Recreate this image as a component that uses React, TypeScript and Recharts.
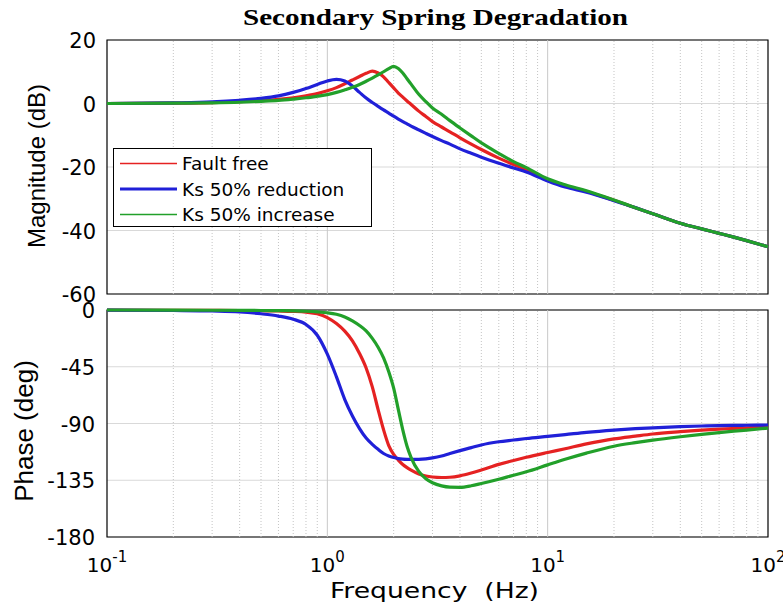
import React from 'react';
import { LineChart, Line, XAxis, YAxis, CartesianGrid, ReferenceLine, ReferenceArea, Legend } from 'recharts';

// frequency points (Hz)
const freqs = [0.1, 0.2, 0.3, 0.4, 0.5, 0.6, 0.7, 0.8, 0.9, 1.0, 1.1, 1.2, 1.3, 1.4, 1.5, 1.6, 1.7, 1.8, 1.9, 2.0, 2.1, 2.2, 2.3, 2.4, 2.6, 2.8, 3.0, 3.3, 3.6, 4.0, 4.5, 5, 6, 7, 8, 10, 12, 15, 20, 25, 30, 40, 50, 60, 70, 80, 100];

// magnitude (dB)
const magFaultFree = [0, 0.1, 0.3, 0.6, 0.9, 1.3, 1.8, 2.4, 3.1, 4.0, 5.0, 6.2, 7.4, 8.5, 9.5, 10.2, 9.6, 8.4, 6.6, 4.9, 3.3, 2.0, 0.8, -0.3, -2.4, -4.1, -5.7, -7.4, -8.9, -10.8, -12.8, -14.5, -17.2, -19.2, -20.8, -24.0, -25.9, -27.7, -30.5, -32.8, -34.7, -37.7, -39.5, -40.9, -42.1, -43.2, -45.1];
const magKsReduction = [0, 0.2, 0.5, 1.0, 1.6, 2.4, 3.5, 4.7, 6.0, 7.1, 7.6, 7.1, 5.5, 3.5, 1.7, 0.3, -0.9, -2.0, -3.0, -4.0, -4.9, -5.7, -6.4, -7.1, -8.3, -9.4, -10.4, -11.7, -12.8, -14.3, -15.7, -16.9, -18.8, -20.3, -21.6, -24.4, -26.3, -27.9, -30.6, -32.8, -34.7, -37.7, -39.5, -40.9, -42.1, -43.2, -45.1];
const magKsIncrease = [0, 0.1, 0.2, 0.4, 0.7, 1.0, 1.4, 1.8, 2.3, 2.8, 3.5, 4.3, 5.1, 6.0, 7.0, 8.0, 9.0, 10.0, 11.0, 11.7, 11.0, 9.6, 7.8, 6.1, 2.9, 0.6, -1.4, -3.4, -5.4, -7.7, -10.2, -12.4, -15.7, -18.3, -20.2, -23.7, -25.6, -27.5, -30.4, -32.8, -34.7, -37.7, -39.5, -40.9, -42.1, -43.2, -45.1];

// phase (deg)
const phaseFaultFree = [-0.1, -0.2, -0.3, -0.4, -0.6, -0.8, -1.1, -1.7, -3.0, -6.0, -10.8, -16.8, -24.5, -34.5, -46.0, -61.0, -79.0, -95.0, -107.5, -114.5, -119.0, -122.5, -125.0, -127.0, -130.0, -131.6, -132.4, -132.8, -132.6, -131.5, -129.3, -126.9, -122.4, -119.3, -116.8, -113.0, -110.0, -106.2, -102.2, -100.0, -98.3, -96.5, -95.3, -94.5, -93.9, -93.4, -92.6];
const phaseKsReduction = [-0.1, -0.4, -0.8, -1.5, -3.0, -4.8, -7.3, -11.5, -20.0, -35.0, -53.0, -71.0, -84.0, -94.0, -101.5, -106.5, -110.5, -113.8, -115.8, -117.0, -117.8, -118.2, -118.4, -118.5, -118.4, -118.0, -117.3, -115.8, -113.8, -111.5, -109.1, -107.0, -104.5, -103.1, -101.9, -100.2, -98.8, -97.0, -95.2, -94.1, -93.4, -92.5, -92.0, -91.7, -91.5, -91.4, -91.2];
const phaseKsIncrease = [0, -0.1, -0.2, -0.3, -0.4, -0.5, -0.7, -1.0, -1.5, -2.2, -3.4, -5.5, -8.6, -12.3, -16.6, -22.5, -29.5, -38.0, -49.0, -62.0, -79.0, -95.0, -108.0, -117.0, -128.0, -133.8, -137.0, -139.5, -140.5, -140.6, -139.4, -137.6, -134.2, -131.0, -128.3, -122.8, -118.4, -113.5, -108.0, -105.2, -103.2, -100.5, -98.6, -97.2, -96.1, -95.2, -93.6];

const decadeTicks = [0.1, 1, 10, 100];
const minorTicks = [0.2, 0.3, 0.4, 0.5, 0.6, 0.7, 0.8, 0.9, 2, 3, 4, 5, 6, 7, 8, 9, 20, 30, 40, 50, 60, 70, 80, 90];
const allXTicks = [...decadeTicks, ...minorTicks].sort((a, b) => a - b);
const magTicks = [-60, -40, -20, 0, 20];
const phaseTicks = [-180, -135, -90, -45, 0];

const seriesNames = ['Fault free', 'Ks 50% reduction', 'Ks 50% increase'];
const seriesColors = ['#e52222', '#2020d8', '#22a02a'];

const magData = freqs.map((f, i) => ({ f, a: magFaultFree[i], b: magKsReduction[i], c: magKsIncrease[i] }));
const phaseData = freqs.map((f, i) => ({ f, a: phaseFaultFree[i], b: phaseKsReduction[i], c: phaseKsIncrease[i] }));

const SANS = '"DejaVu Sans", sans-serif';

const YTick = (props: any) => {
  const { x, y, payload } = props;
  return (
    <text x={x} y={y} dy={8} textAnchor="end" fontFamily={SANS} fontSize={21} fill="#000">
      {payload.value}
    </text>
  );
};

const XTick = (props: any) => {
  const { x, y, payload } = props;
  const exp = Math.round(Math.log10(payload.value));
  return (
    <text x={x} y={y} textAnchor="middle" fontFamily={SANS} fill="#000">
      <tspan fontSize={20} dy={35}>10</tspan>
      <tspan fontSize={15} dy={-10}>{String(exp)}</tspan>
    </text>
  );
};

const LegendBox = () => (
  <svg width={260} height={80} style={{ display: 'block' }}>
    <rect x={0.5} y={0.5} width={258} height={78} fill="#fff" stroke="#000" />
    {seriesNames.map((n, i) => (
      <g key={n}>
        <line x1={7} x2={64} y1={15.5 + i * 25.5} y2={15.5 + i * 25.5} stroke={seriesColors[i]} strokeWidth={i === 1 ? 3 : 1.5} />
        <text x={69} y={22 + i * 25.5} fontFamily={SANS} fontSize={18.5} fill="#000">{n}</text>
      </g>
    ))}
  </svg>
);

const gridLines = () => [
  ...minorTicks.map((t) => (
    <ReferenceLine key={'m' + t} x={t} stroke="#c4c4c4" strokeDasharray="1 2" ifOverflow="hidden" />
  )),
  ...decadeTicks.slice(1, 3).map((t) => (
    <ReferenceLine key={'d' + t} x={t} stroke="#c8c8c8" ifOverflow="hidden" />
  )),
];

const tickAxes = (yTicks: number[], yDomain: number[]) => [
  <XAxis key="xb" xAxisId="xb" type="number" scale="log" domain={[0.1, 100]} ticks={allXTicks} orientation="bottom" mirror tick={false} tickSize={4} axisLine={false} stroke="#000" height={1} />,
  <XAxis key="xt" xAxisId="xt" type="number" scale="log" domain={[0.1, 100]} ticks={allXTicks} orientation="top" mirror tick={false} tickSize={4} axisLine={false} stroke="#000" height={1} />,
  <YAxis key="yr" yAxisId="yr" type="number" domain={yDomain} ticks={yTicks} orientation="right" mirror tick={false} tickSize={5} axisLine={false} stroke="#000" width={1} />,
  <YAxis key="yl" yAxisId="yl" type="number" domain={yDomain} ticks={yTicks} orientation="left" mirror tick={false} tickSize={5} axisLine={false} stroke="#000" width={1} />,
];

const lines = () =>
  ['a', 'b', 'c'].map((k, i) => (
    <Line key={k} dataKey={k} name={seriesNames[i]} type="monotone" stroke={seriesColors[i]} strokeWidth={3.2} dot={false} isAnimationActive={false} />
  ));

export default function App() {
  return (
    <div style={{ position: 'absolute', left: 0, top: 0, width: 783, height: 607, background: '#fff', overflow: 'hidden' }}>
      <div style={{ position: 'absolute', left: 0, top: 0 }}>
        <LineChart width={783} height={310} data={magData} margin={{ top: 40, right: 15, bottom: 16, left: 7 }}>
          <CartesianGrid vertical={false} stroke="#d9d9d9" />
          {gridLines()}
          <XAxis dataKey="f" type="number" scale="log" domain={[0.1, 100]} ticks={decadeTicks} hide />
          <YAxis
            type="number"
            domain={[-60, 20]}
            ticks={magTicks}
            width={100}
            tick={<YTick />}
            tickLine={false}
            axisLine={false}
            tickSize={0}
            tickMargin={11}
            label={{
              content: () => (
                <text x={45} y={166} transform="rotate(-90 45 166)" textAnchor="middle" fontFamily='"Liberation Sans", Arial, sans-serif' fontSize={24} fill="#000">
                  Magnitude (dB)
                </text>
              ),
            }}
          />
          {tickAxes(magTicks, [-60, 20])}
          <ReferenceArea x1={0.1} x2={100} y1={-60} y2={20} fill="none" stroke="#000" strokeWidth={1.2} />
          {lines()}
          <Legend layout="horizontal" align="center" verticalAlign="middle" wrapperStyle={{ left: 113, top: 148, width: 260, height: 80 }} content={() => <LegendBox />} />
          <text x={435.5} y={25} textAnchor="middle" fontFamily='"Liberation Serif", "Times New Roman", serif' fontWeight="bold" fontSize={23} textLength={385} lengthAdjust="spacingAndGlyphs" fill="#000">
            Secondary Spring Degradation
          </text>
        </LineChart>
      </div>
      <div style={{ position: 'absolute', left: 0, top: 300 }}>
        <LineChart width={783} height={307} data={phaseData} margin={{ top: 10, right: 15, bottom: 30, left: 7 }}>
          <CartesianGrid vertical={false} stroke="#d9d9d9" />
          {gridLines()}
          <XAxis
            dataKey="f"
            type="number"
            scale="log"
            domain={[0.1, 100]}
            ticks={decadeTicks}
            height={40}
            tick={<XTick />}
            tickLine={false}
            axisLine={false}
            tickSize={0}
            tickMargin={0}
            label={{
              content: () => (
                <text x={330} y={298} fontFamily={SANS} fontSize={22} textLength={209} lengthAdjust="spacingAndGlyphs" style={{ whiteSpace: 'pre' }} fill="#000">
                  {'Frequency  (Hz)'}
                </text>
              ),
            }}
          />
          <YAxis
            type="number"
            domain={[-180, 0]}
            ticks={phaseTicks}
            width={100}
            tick={<YTick />}
            tickLine={false}
            axisLine={false}
            tickSize={0}
            tickMargin={12}
            label={{
              content: () => (
                <text x={33} y={131} transform="rotate(-90 33 131)" textAnchor="middle" fontFamily='"Liberation Sans", Arial, sans-serif' fontSize={26} fill="#000">
                  Phase (deg)
                </text>
              ),
            }}
          />
          {tickAxes(phaseTicks, [-180, 0])}
          <ReferenceArea x1={0.1} x2={100} y1={-180} y2={0} fill="none" stroke="#000" strokeWidth={1.2} />
          {lines()}
        </LineChart>
      </div>
    </div>
  );
}
